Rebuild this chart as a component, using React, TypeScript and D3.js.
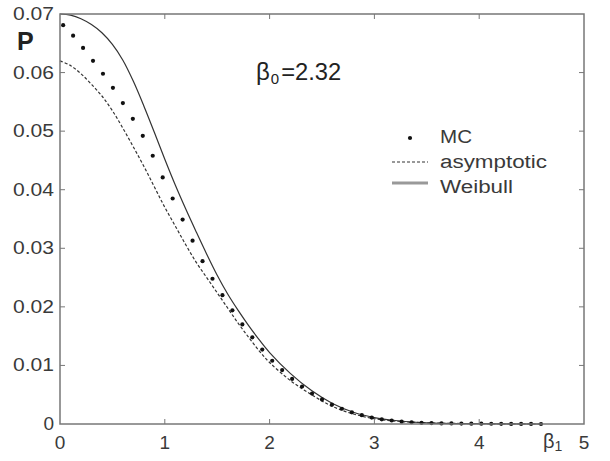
import React from 'react';
import * as d3 from 'd3';

// Weibull fit (upper solid curve)
const weibullBeta = [0, 0.1, 0.2, 0.3, 0.4, 0.5, 0.6, 0.7, 0.8, 0.9, 1.0, 1.1, 1.2, 1.3, 1.4, 1.5, 1.6, 1.7, 1.8, 1.9, 2.0, 2.2, 2.4, 2.6, 2.8, 3.0, 3.2, 3.5, 4.0, 4.6];
const weibullP = [0.07, 0.0698, 0.0692, 0.0682, 0.0668, 0.0648, 0.0621, 0.0585, 0.0543, 0.0498, 0.0452, 0.0408, 0.0367, 0.0328, 0.029, 0.0254, 0.0222, 0.0194, 0.0168, 0.0144, 0.0122, 0.0086, 0.0057, 0.0035, 0.002, 0.0011, 0.0006, 0.0002, 0.00005, 0];

// asymptotic (lower dashed curve)
const asymBeta = [0, 0.1, 0.2, 0.3, 0.4, 0.5, 0.6, 0.7, 0.8, 0.9, 1.0, 1.1, 1.2, 1.3, 1.4, 1.5, 1.6, 1.7, 1.8, 1.9, 2.0, 2.2, 2.4, 2.6, 2.8, 3.0, 3.2, 3.5, 4.0, 4.6];
const asymP = [0.062, 0.0612, 0.0598, 0.058, 0.056, 0.0535, 0.0505, 0.0473, 0.044, 0.0405, 0.037, 0.0338, 0.0306, 0.0276, 0.025, 0.0224, 0.0198, 0.0172, 0.0148, 0.0125, 0.0105, 0.0074, 0.005, 0.003, 0.0017, 0.0009, 0.0005, 0.0002, 0.00005, 0];

// Monte Carlo points
const mcBeta = [0.03, 0.125, 0.22, 0.315, 0.41, 0.505, 0.6, 0.695, 0.79, 0.885, 0.98, 1.075, 1.17, 1.265, 1.36, 1.455, 1.55, 1.645, 1.74, 1.835, 1.93, 2.025, 2.12, 2.215, 2.31, 2.405, 2.5, 2.595, 2.69, 2.785, 2.88, 2.975, 3.07, 3.165, 3.26, 3.355, 3.45, 3.545, 3.64, 3.735, 3.83, 3.925, 4.02, 4.115, 4.21, 4.305, 4.4, 4.495, 4.59];
const mcP = [0.0681, 0.0663, 0.0642, 0.062, 0.0598, 0.0574, 0.0548, 0.0521, 0.0492, 0.0458, 0.0421, 0.0385, 0.0349, 0.0313, 0.0278, 0.0248, 0.022, 0.0194, 0.017, 0.0148, 0.0127, 0.0108, 0.0092, 0.0077, 0.0064, 0.0052, 0.0042, 0.0033, 0.0026, 0.002, 0.0015, 0.0011, 0.0008, 0.0006, 0.0004, 0.0003, 0.0002, 0.00015, 0.0001, 0.0001, 0.00008, 0.00006, 0.00005, 0.00004, 0.00003, 0.00002, 0.00001, 0.00001, 0];

const xTicks = [0, 1, 2, 3, 4];
const yTicks = [0, 0.01, 0.02, 0.03, 0.04, 0.05, 0.06, 0.07];

const W = 610, H = 461;
const left = 60, right = 584, top = 14, bottom = 424;
const font = 'Liberation Sans, Arial, sans-serif';
const axisColor = '#777';
const textColor = '#3a3a3a';

export default function App() {
  const x = d3.scaleLinear().domain([0, 5]).range([left, right]);
  const y = d3.scaleLinear().domain([0, 0.07]).range([bottom, top]);

  const line = d3.line<[number, number]>()
    .x(d => x(d[0]))
    .y(d => y(d[1]))
    .curve(d3.curveCatmullRom);

  const weibull = weibullBeta.map((b, i) => [b, weibullP[i]] as [number, number]);
  const asym = asymBeta.map((b, i) => [b, asymP[i]] as [number, number]);
  const mc = mcBeta.map((b, i) => [b, mcP[i]] as [number, number]);

  return (
    <svg width={W} height={H} style={{ position: 'absolute', left: 0, top: 0, background: '#fff' }}>
      {/* curves */}
      <path d={line(weibull)!} fill="none" stroke="#333" strokeWidth={1.2} />
      <path d={line(asym)!} fill="none" stroke="#333" strokeWidth={1.2} strokeDasharray="3,2" />
      {mc.map((d, i) => (
        <circle key={i} cx={x(d[0])} cy={y(d[1])} r={2.1} fill="#111" />
      ))}

      {/* box */}
      <rect x={left} y={top} width={right - left} height={bottom - top} fill="none" stroke={axisColor} strokeWidth={1.5} />

      {/* ticks */}
      {xTicks.slice(1).map(t => (
        <g key={'xt' + t}>
          <line x1={x(t)} x2={x(t)} y1={bottom} y2={bottom - 5} stroke={axisColor} />
          <line x1={x(t)} x2={x(t)} y1={top} y2={top + 5} stroke={axisColor} />
        </g>
      ))}
      {yTicks.slice(1, -1).map(t => (
        <g key={'yt' + t}>
          <line x1={left} x2={left + 5} y1={y(t)} y2={y(t)} stroke={axisColor} />
          <line x1={right} x2={right - 5} y1={y(t)} y2={y(t)} stroke={axisColor} />
        </g>
      ))}

      {/* tick labels */}
      {yTicks.map(t => (
        <text key={'yl' + t} x={54} y={y(t) + 6} textAnchor="end" fontFamily={font} fontSize={19} fill={textColor}
          textLength={t === 0 ? undefined : 41} lengthAdjust="spacingAndGlyphs">
          {t === 0 ? '0' : t.toFixed(2)}
        </text>
      ))}
      {xTicks.map(t => (
        <text key={'xl' + t} x={x(t)} y={449} textAnchor="middle" fontFamily={font} fontSize={19} fill={textColor}>
          {t}
        </text>
      ))}
      <text x={x(5)} y={449} textAnchor="middle" fontFamily={font} fontSize={19} fill={textColor}>5</text>

      {/* axis titles */}
      <text x={543} y={448} fontFamily={font} fontSize={20} fill={textColor}>
        β<tspan fontSize={14} dy={3}>1</tspan>
      </text>
      <text x={17} y={50} fontFamily={font} fontSize={25} fontWeight="bold" fill="#222">P</text>

      {/* annotation */}
      <text x={256} y={80} fontFamily={font} fontSize={24} fill="#222">
        β<tspan fontSize={15} dy={4} dx={1}>0</tspan><tspan dy={-4} dx={2} textLength={60} lengthAdjust="spacingAndGlyphs">=2.32</tspan>
      </text>

      {/* legend */}
      <circle cx={410} cy={138} r={2.1} fill="#111" />
      <text x={440} y={143} fontFamily={font} fontSize={18} fill={textColor} textLength={32} lengthAdjust="spacingAndGlyphs">MC</text>
      <line x1={392} x2={428} y1={162} y2={162} stroke="#333" strokeWidth={1.2} strokeDasharray="3,2" />
      <text x={440} y={168} fontFamily={font} fontSize={18} fill={textColor} textLength={107} lengthAdjust="spacingAndGlyphs">asymptotic</text>
      <line x1={392} x2={428} y1={183} y2={183} stroke="#999" strokeWidth={3} />
      <text x={440} y={193} fontFamily={font} fontSize={18} fill={textColor} textLength={73} lengthAdjust="spacingAndGlyphs">Weibull</text>
    </svg>
  );
}
